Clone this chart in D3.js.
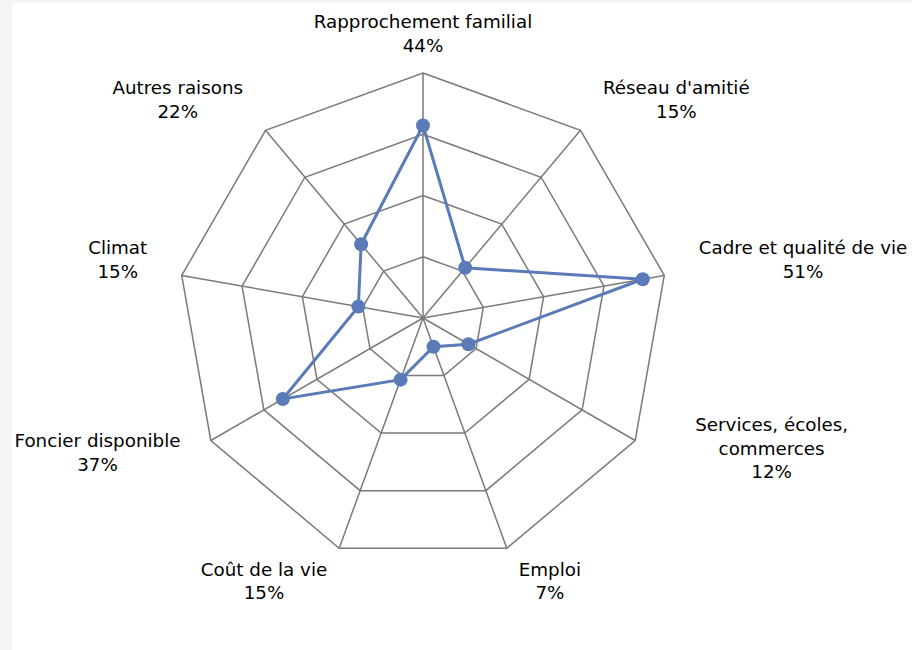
<!DOCTYPE html>
<html>
<head>
<meta charset="utf-8">
<script src="https://cdn.jsdelivr.net/npm/d3@7"></script>
<style>
  body { margin: 0; background: #f4f4f4; }
  svg { display: block; }
</style>
</head>
<body>
<svg id="chart" width="912" height="650"></svg>
<script>
// categories (clockwise from top) and their shares in %
var categories = ["Rapprochement familial", "Réseau d'amitié", "Cadre et qualité de vie",
  "Services, écoles, commerces", "Emploi", "Coût de la vie",
  "Foncier disponible", "Climat", "Autres raisons"];
var labelLines = [["Rapprochement familial"], ["Réseau d'amitié"], ["Cadre et qualité de vie"],
  ["Services, écoles,", "commerces"], ["Emploi"], ["Coût de la vie"],
  ["Foncier disponible"], ["Climat"], ["Autres raisons"]];
var values = [44, 15, 51, 12, 7, 15, 37, 15, 22];
var ringLevels = [14, 28, 42, 56];

var svg = d3.select("#chart");
svg.append("rect").attr("x", 12).attr("y", 3).attr("width", 900).attr("height", 647).attr("fill", "#fff");

var cx = 423, cy = 318, R = 245;
var n = categories.length;
var angle = d3.scaleLinear().domain([0, n]).range([0, 2 * Math.PI]);
var r = d3.scaleLinear().domain([0, d3.max(ringLevels)]).range([0, R]);

function pt(i, v) {
  var a = angle(i);
  return [cx + Math.sin(a) * r(v), cy - Math.cos(a) * r(v)];
}

var grid = svg.append("g");
// rings
ringLevels.forEach(function(level){
  grid.append("polygon")
    .attr("points", categories.map(function(c, i){ return pt(i, level).join(","); }).join(" "))
    .attr("fill", "none")
    .attr("stroke", "#7a7a7a")
    .attr("stroke-width", 1.5);
});
// spokes
categories.forEach(function(c, i){
  var p = pt(i, d3.max(ringLevels));
  grid.append("line")
    .attr("x1", cx).attr("y1", cy).attr("x2", p[0]).attr("y2", p[1])
    .attr("stroke", "#7a7a7a")
    .attr("stroke-width", 1.5);
});

// series
var line = d3.line().curve(d3.curveLinearClosed);
svg.append("path")
  .attr("d", line(values.map(function(v, i){ return pt(i, v); })))
  .attr("fill", "none")
  .attr("stroke", "#5a7ab8")
  .attr("stroke-width", 3);

svg.selectAll(".dot").data(values).enter().append("circle")
  .attr("class", "dot")
  .attr("cx", function(d, i){ return pt(i, d)[0]; })
  .attr("cy", function(d, i){ return pt(i, d)[1]; })
  .attr("r", 7)
  .attr("fill", "#5a7ab8");

// labels
var lineH = 23.5;
categories.forEach(function(c, i){
  var a = angle(i);
  var dx = Math.sin(a), dy = -Math.cos(a);
  var v = pt(i, d3.max(ringLevels));
  var lines = labelLines[i].concat([values[i] + "%"]);
  var g = svg.append("text")
    .attr("font-family", "DejaVu Sans, sans-serif")
    .attr("font-size", 18.3)
    .attr("fill", "#000")
    .attr("text-anchor", "middle");
  lines.forEach(function(t){
    g.append("tspan").text(t);
  });
  var wLines = d3.max(g.selectAll("tspan").nodes(), function(node){ return node.getComputedTextLength(); });
  // wrapped labels are anchored halfway between wrapped and unwrapped width
  var wFull = c.length * 0.55 * 18.3;
  var w = labelLines[i].length > 1 ? (wLines + wFull) / 2 : wLines;
  var ox = Math.abs(dx) < 0.05 ? 0 : Math.sign(dx) * (w / 2 + 35 * Math.abs(dx));
  var oy = dy * (lineH + 12) - 12 * (1 - Math.abs(dy)) - 4 * Math.pow(Math.max(0, -dy), 6);
  if (labelLines[i].length > 1) oy -= 4;
  var x = v[0] + ox;
  var yc = v[1] + oy;
  var top = yc - (lines.length * lineH) / 2;
  g.selectAll("tspan")
    .attr("x", x)
    .attr("y", function(d, k){ return top + lineH * k + lineH / 2 + 6.5; });
});
</script>
</body>
</html>
